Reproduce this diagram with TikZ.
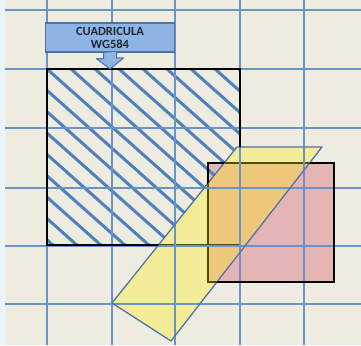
\documentclass[tikz,border=0pt]{standalone}
\usepackage{fontspec}
\setmainfont{Carlito}
\usetikzlibrary{positioning}
\definecolor{bgB}{RGB}{238,235,225}
\definecolor{edgeB}{RGB}{234,244,252}
\definecolor{gridB}{RGB}{106,147,200}
\definecolor{hatchB}{RGB}{79,129,189}
\definecolor{tagB}{RGB}{142,180,227}
\definecolor{tagE}{RGB}{74,114,168}
\definecolor{textB}{RGB}{30,40,55}
\definecolor{pinkR}{RGB}{229,181,181}
\definecolor{polyE}{RGB}{79,115,168}
\tikzset{
  gridline/.style={gridB,line width=1.2pt},
  blackbox/.style={black,line width=2.5pt},
  tagbox/.style={draw=tagE,fill=tagB,line width=1.5pt,minimum width=129pt,minimum height=29pt,
    inner sep=0pt,align=center,text=textB,font=\bfseries\fontsize{12.5}{13}\selectfont},
}

\begin{document}
\begin{tikzpicture}[x=1pt,y=-1pt]
\useasboundingbox (0,0) rectangle (361,345);
\fill[edgeB] (0,0) rectangle (361,345);
\fill[bgB] (5,0) rectangle (361,345);
\fill[pinkR] (208,163) rectangle (334,282);
\begin{scope}[even odd rule]
\clip (47,69) rectangle (240,245);
\clip (0,0) rectangle (361,345) (237,147) -- (322,147) -- (171,341) -- (112,303) -- cycle;
\foreach \k in {-8,...,8}
  \draw[hatchB,line width=3pt] (47+24*\k,69) -- ++(200,178);
\end{scope}
\draw[blackbox] (47,69) rectangle (240,245);
\draw[blackbox,line width=2pt] (208,163) rectangle (334,282);
\fill[yellow,opacity=.32] (237,147) -- (322,147) -- (171,341) -- (112,303) -- cycle;
\foreach \x in {47,112,175,240,304}
  \draw[gridline] (\x,0) -- (\x,345);
\foreach \y in {10,69,128,188,246,304}
  \draw[gridline] (5,\y) -- (361,\y);
\draw[polyE,line width=1.3pt,line join=round] (237,147) -- (322,147) -- (171,341) -- (112,303) -- cycle;
\begin{scope}[even odd rule]
\clip (0,0) rectangle (361,345) (237,147) -- (322,147) -- (171,341) -- (112,303) -- cycle;
\draw[blackbox] (47,69) rectangle (240,245);
\draw[blackbox,line width=2pt] (208,163) rectangle (334,282);
\end{scope}

\node[tagbox] (cuad) at (110,37.5) {CUADRICULA\\WG584};
\coordinate (tip) at (110,69);
\path[fill=tagB,draw=tagE,line width=1pt,line join=round] (cuad.south) ++(-6.5,0) -- ++(0,6) -- ++(-7,0)
  -- (tip) -- ++(13.5,-11) -- ++(-7,0) -- ++(0,-6);
\end{tikzpicture}
\end{document}
